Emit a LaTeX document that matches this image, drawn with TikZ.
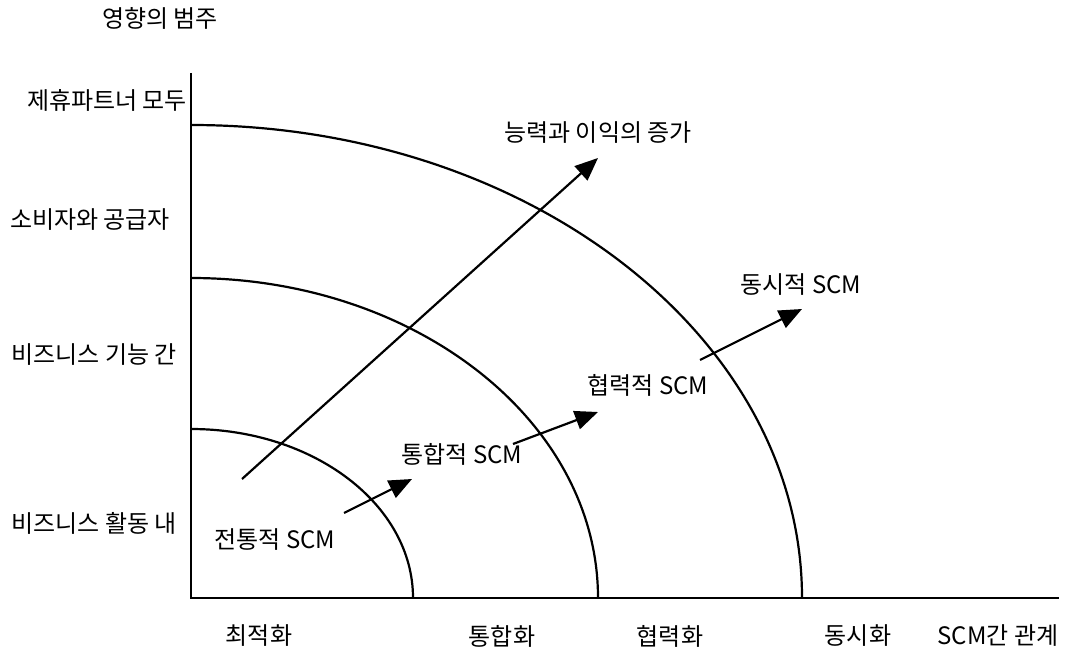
\documentclass[tikz,border=0pt]{standalone}
\usepackage{fontspec}
\setmainfont{Noto Sans CJK KR}
\usetikzlibrary{arrows.meta}
\begin{document}
\begin{tikzpicture}[x=1pt,y=-1pt,
  lbl/.style={font=\fontsize{24}{26}\selectfont, inner sep=0pt},
  axisline/.style={line width=2.6pt},
  ring/.style={line width=2.2pt},
  growarrow/.style={line width=2.2pt,-{Triangle[length=23pt,width=19pt]}}]
\useasboundingbox (0,0) rectangle (1091,652);
% axes
\coordinate (O) at (191,598);
\coordinate (ytop) at (191,73);
\coordinate (xend) at (1059,598);
\draw[axisline] (ytop) -- (O) -- (xend);
% rings
\draw[ring] (413,598) arc[start angle=0,end angle=-90,x radius=222,y radius=169];
\draw[ring] (598,598) arc[start angle=0,end angle=-90,x radius=407,y radius=320];
\draw[ring] (802,598) arc[start angle=0,end angle=-90,x radius=611,y radius=473];
% labels
\node[lbl] (ycap) at (160,18) {영향의 범주};
\node[lbl] (y4) at (107,100) {제휴파트너 모두};
\node[lbl] (y3) at (90,220) {소비자와 공급자};
\node[lbl] (y2) at (94,355) {비즈니스 기능 간};
\node[lbl] (y1) at (94,523) {비즈니스 활동 내};
\node[lbl] (s1) at (275,540) {전통적 SCM};
\node[lbl] (s2) at (462,454) {통합적 SCM};
\node[lbl] (s3) at (648,385) {협력적 SCM};
\node[lbl] (s4) at (801,285) {동시적 SCM};
\node[lbl] (gain) at (598,133) {능력과 이익의 증가};
\node[lbl] (x1) at (259,636) {최적화};
\node[lbl] (x2) at (502,636) {통합화};
\node[lbl] (x3) at (670,636) {협력화};
\node[lbl] (x4) at (858,636) {동시화};
\node[lbl] (xcap) at (998,636) {SCM간 관계};
% arrows
\coordinate (b0) at (242,479); \coordinate (b1) at (598,158);
\coordinate (a0) at (344,513); \coordinate (a1) at (412,479);
\coordinate (c0) at (513,444); \coordinate (c1) at (598,412);
\coordinate (d0) at (700,360); \coordinate (d1) at (802,309);
\draw[growarrow] (b0) -- (b1);
\draw[growarrow] (a0) -- (a1);
\draw[growarrow] (c0) -- (c1);
\draw[growarrow] (d0) -- (d1);
\end{tikzpicture}
\end{document}
